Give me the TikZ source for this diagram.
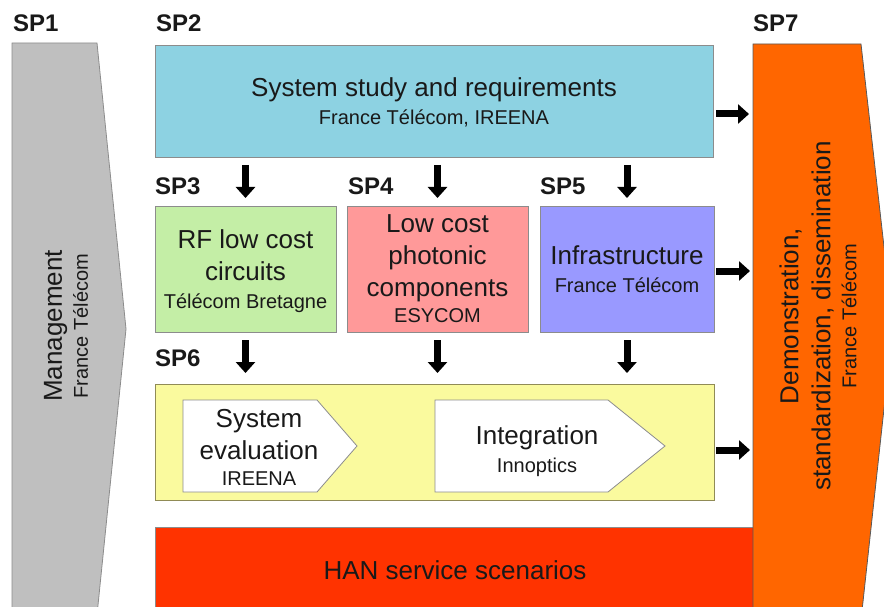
\documentclass[tikz,border=0pt]{standalone}
\usepackage{fontspec}
\setmainfont{Liberation Sans}
\usetikzlibrary{arrows.meta,positioning}

\definecolor{mgmtgray}{HTML}{BFBFBF}
\definecolor{studyblue}{HTML}{8DD2E2}
\definecolor{rfgreen}{HTML}{C4EEA6}
\definecolor{photopink}{HTML}{FF9999}
\definecolor{infraviolet}{HTML}{9999FF}
\definecolor{evalyellow}{HTML}{FAFA9E}
\definecolor{hanred}{HTML}{FF3300}
\definecolor{demoorange}{HTML}{FF6600}

\newcommand{\subtxt}[1]{{\fontsize{20}{24}\selectfont #1}}

\begin{document}
\begin{tikzpicture}[
    x=1pt, y=-1pt,
    every node/.style={font=\fontsize{26}{32}\selectfont, text=black!90},
    wp/.style={rectangle, draw=gray!90, line width=0.8pt, inner sep=0pt, outer sep=0pt, align=center},
    splabel/.style={font=\fontsize{24}{28}\selectfont\bfseries, anchor=base west, inner sep=0pt},
    fat/.style={line width=7pt, -{Triangle[length=11pt,width=19pt]}}
]
\useasboundingbox (0,0) rectangle (884,607);

% side arrows
\filldraw[fill=mgmtgray, draw=gray!90, line width=0.8pt] (12,43) -- (97,43) -- (126,329) -- (97,615) -- (12,615) -- cycle;
\node[rotate=90, align=center] (mgmt) at (66,326) {Management\\[-6pt]\subtxt{France Télécom}};

\node[wp, fill=hanred, minimum width=600pt, minimum height=86pt] (han) at (455,570) {HAN service scenarios};

\filldraw[fill=demoorange, draw=gray!70!black, line width=0.8pt] (753,44) -- (861,44) -- (893,326) -- (861,620) -- (753,620) -- cycle;
\coordinate (sp7) at (753,326);
\node[rotate=90, align=center] (demo) at (818,316) {Demonstration,\\standardization, dissemination\\[-6pt]\subtxt{France Télécom}};

% work packages
\node[wp, fill=studyblue, minimum width=558pt, minimum height=112pt] (sp2) at (434,101) {\rule{0pt}{22pt}System study and requirements\\[-4pt]\subtxt{France Télécom, IREENA}};
\node[wp, fill=rfgreen, minimum width=181pt, minimum height=126pt] (sp3) at (245.5,269) {\rule{0pt}{24pt}RF low cost\\circuits\\[-4pt]\subtxt{Télécom Bretagne}};
\node[wp, fill=photopink, minimum width=181pt, minimum height=126pt, right=11pt of sp3] (sp4) {Low cost\\photonic\\components\\[-6pt]\subtxt{ESYCOM}};
\node[wp, fill=infraviolet, minimum width=174pt, minimum height=126pt, right=12pt of sp4] (sp5) {Infrastructure\\[-4pt]\subtxt{France Télécom}};
\node[wp, fill=evalyellow, draw=gray!60!olive, minimum width=559pt, minimum height=116pt] (sp6) at (434.5,442) {};

\filldraw[fill=white, draw=gray!90, line width=0.8pt] (183,400) -- (317,400) -- (357,446) -- (317,492) -- (183,492) -- cycle;
\node[align=center] (eval) at (259,447) {System\\evaluation\\[-6pt]\subtxt{IREENA}};
\filldraw[fill=white, draw=gray!90, line width=0.8pt] (435,400) -- (608,400) -- (665,446) -- (608,492) -- (435,492) -- cycle;
\node[align=center] (integ) at (537,451) {Integration\\[-4pt]\subtxt{Innoptics}};

% labels
\node[splabel] (l1) at (13,32) {SP1};
\node[splabel] (l2) at (156,32) {SP2};
\node[splabel] (l7) at (753,32) {SP7};
\node[splabel] (l3) at (155,195) {SP3};
\node[splabel] (l4) at (348,195) {SP4};
\node[splabel] (l5) at (540,195) {SP5};
\node[splabel] (l6) at (155,366) {SP6};

% arrows
\draw[fat, shorten <=8pt, shorten >=8pt] (sp3.north |- sp2.south) -- (sp3.north);
\draw[fat, shorten <=8pt, shorten >=8pt] (sp4.north |- sp2.south) -- (sp4.north);
\draw[fat, shorten <=8pt, shorten >=8pt] (sp5.north |- sp2.south) -- (sp5.north);
\draw[fat, shorten <=8pt, shorten >=11pt] (sp3.south) -- (sp3.south |- sp6.north);
\draw[fat, shorten <=8pt, shorten >=11pt] (sp4.south) -- (sp4.south |- sp6.north);
\draw[fat, shorten <=8pt, shorten >=11pt] (sp5.south) -- (sp5.south |- sp6.north);
\draw[fat, shorten <=3pt, shorten >=4pt] (sp2.east |- 0,114) -- (sp7 |- 0,114);
\draw[fat, shorten <=2pt, shorten >=3pt] (sp5.east |- 0,271) -- (sp7 |- 0,271);
\draw[fat, shorten <=2pt, shorten >=3pt] (sp6.east |- 0,450) -- (sp7 |- 0,450);
\end{tikzpicture}
\end{document}
